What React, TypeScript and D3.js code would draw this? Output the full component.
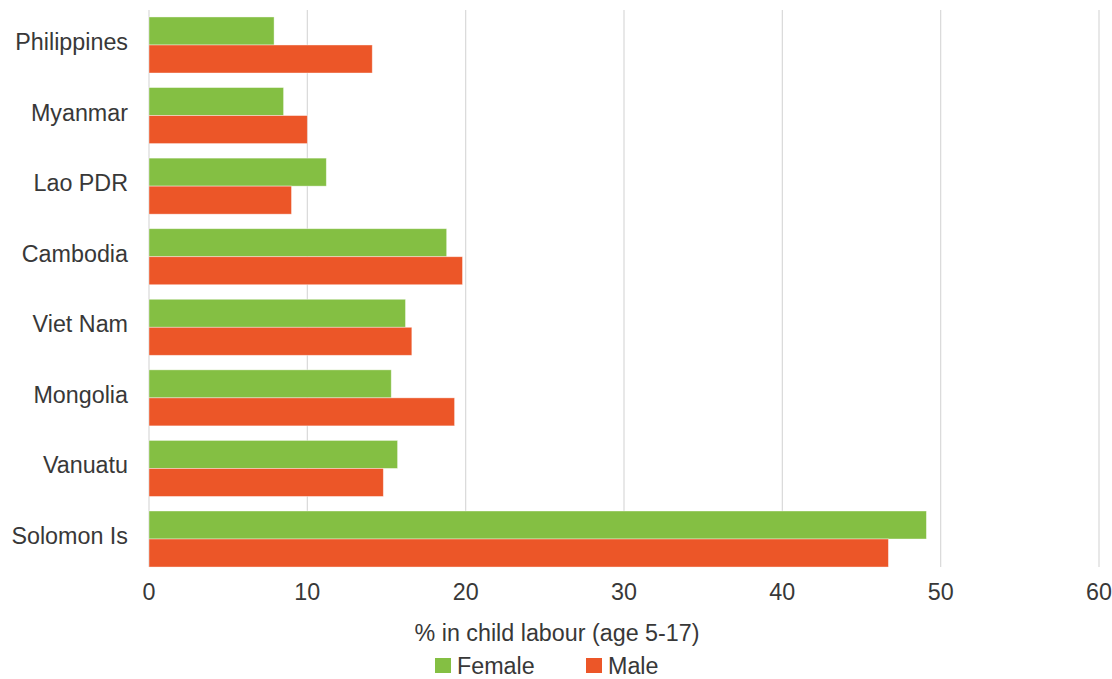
import React from "react";
import * as d3 from "d3";

const categories = ["Philippines", "Myanmar", "Lao PDR", "Cambodia", "Viet Nam", "Mongolia", "Vanuatu", "Solomon Is"];
const female = [7.9, 8.5, 11.2, 18.8, 16.2, 15.3, 15.7, 49.1];
const male = [14.1, 10.0, 9.0, 19.8, 16.6, 19.3, 14.8, 46.7];
const xTicks = [0, 10, 20, 30, 40, 50, 60];
const seriesNames = ["Female", "Male"];
const colors = ["#84BF43", "#EC5628"];

export default function App() {
  const W = 1112, H = 679;
  const x = d3.scaleLinear().domain([0, 60]).range([149, 1099]);
  const y = d3.scaleBand().domain(categories).range([9.7, 574.3]).paddingInner(0.206).paddingOuter(0.103);
  const sub = d3.scaleBand().domain(seriesNames).range([0, y.bandwidth()]);
  const gridTop = 10;
  const gridBottom = (y(categories[categories.length - 1]) as number) + y.bandwidth();
  const font = "'Liberation Sans', Arial, sans-serif";
  const fs = 23.3;
  const textColor = "#383838";
  const data = [female, male];
  return (
    <svg width={W} height={H} style={{ position: "absolute", left: 0, top: 0 }}>
      <rect width={W} height={H} fill="#fff" />
      {xTicks.map((t) => (
        <line key={t} x1={x(t)} x2={x(t)} y1={gridTop} y2={gridBottom} stroke="#d9d9d9" strokeWidth={1.2} />
      ))}
      {categories.map((c, i) => (
        <g key={c}>
          {seriesNames.map((s, j) => (
            <rect
              key={s}
              x={x(0)}
              y={(y(c) as number) + (sub(s) as number)}
              width={x(data[j][i]) - x(0)}
              height={sub.bandwidth()}
              fill={colors[j]}
              stroke="#fff"
              strokeOpacity={0.5}
              strokeWidth={0.8}
            />
          ))}
          <text
            x={128}
            y={(y(c) as number) + y.bandwidth() / 2 - 3}
            textAnchor="end"
            dominantBaseline="central"
            fontFamily={font}
            fontSize={fs}
            fill={textColor}
          >
            {c}
          </text>
        </g>
      ))}
      {xTicks.map((t) => (
        <text key={t} x={x(t)} y={600} textAnchor="middle" fontFamily={font} fontSize={fs} fill={textColor}>
          {t}
        </text>
      ))}
      <text x={557} y={641} textAnchor="middle" fontFamily={font} fontSize={fs} fill={textColor}>
        % in child labour (age 5-17)
      </text>
      {seriesNames.map((s, j) => {
        const lx = j === 0 ? 435 : 586;
        return (
          <g key={s}>
            <rect x={lx} y={658} width={16} height={15} fill={colors[j]} />
            <text x={lx + 22} y={674} fontFamily={font} fontSize={fs} fill={textColor}>
              {s}
            </text>
          </g>
        );
      })}
    </svg>
  );
}
